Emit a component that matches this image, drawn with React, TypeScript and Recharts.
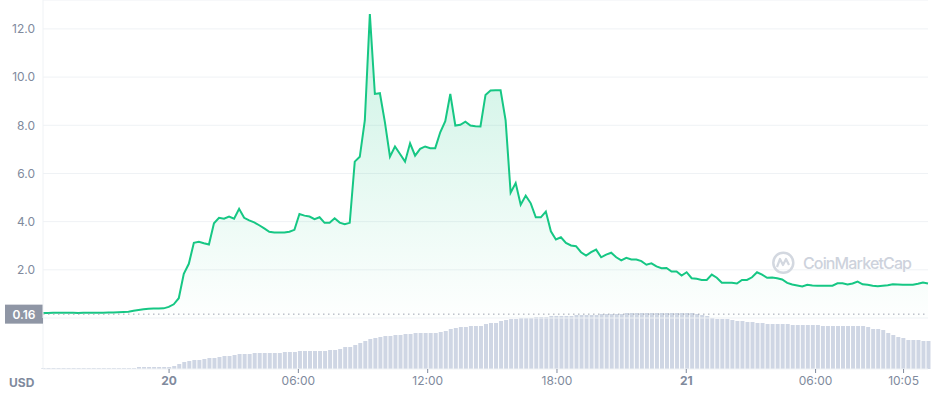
import { AreaChart, Area, BarChart, Bar, XAxis, YAxis, CartesianGrid, ReferenceLine } from "recharts"

// 19th 18:09 in minutes from 19th 00:00, one sample every 14 minutes
const START = 1089
const STEP = 14

const price = [
  0.21, 0.21, 0.22, 0.22, 0.22, 0.22, 0.22, 0.21, 0.22, 0.22, 0.22, 0.22, 0.22, 0.23, 0.23, 0.24, 0.25, 0.26, 0.30, 0.33,
  0.36, 0.38, 0.39, 0.39, 0.40, 0.46, 0.57, 0.82, 1.83, 2.25, 3.12, 3.16, 3.10, 3.05, 3.93, 4.16, 4.12, 4.21, 4.12, 4.53,
  4.16, 4.05, 3.97, 3.85, 3.72, 3.58, 3.55, 3.55, 3.55, 3.58, 3.66, 4.32, 4.25, 4.21, 4.10, 4.18, 3.95, 3.95, 4.14, 3.96,
  3.89, 3.95, 6.49, 6.69, 8.20, 12.62, 9.30, 9.33, 8.12, 6.70, 7.12, 6.81, 6.49, 7.25, 6.74, 7.02, 7.12, 7.05, 7.05, 7.71,
  8.17, 9.30, 7.99, 8.02, 8.15, 7.99, 7.96, 7.95, 9.26, 9.44, 9.45, 9.45, 8.20, 5.20, 5.60, 4.70, 5.08, 4.76, 4.18, 4.18,
  4.42, 3.60, 3.26, 3.35, 3.12, 3.01, 2.98, 2.73, 2.59, 2.73, 2.84, 2.52, 2.63, 2.71, 2.52, 2.39, 2.50, 2.43, 2.43, 2.36,
  2.21, 2.27, 2.14, 2.07, 2.08, 1.93, 1.93, 1.76, 1.90, 1.65, 1.63, 1.58, 1.58, 1.80, 1.67, 1.46, 1.46, 1.46, 1.43, 1.58,
  1.58, 1.69, 1.90, 1.80, 1.67, 1.68, 1.65, 1.60, 1.46, 1.39, 1.35, 1.31, 1.38, 1.35, 1.34, 1.34, 1.34, 1.34, 1.44, 1.44,
  1.39, 1.43, 1.51, 1.40, 1.38, 1.34, 1.32, 1.34, 1.36, 1.40, 1.39, 1.38, 1.38, 1.38, 1.42, 1.47, 1.43,
]

const volume = [
  1, 1, 1, 1, 1, 1, 1, 1, 1, 1, 1, 1, 1, 1, 1, 1, 1, 1, 1,
  2, 2, 2, 2, 2, 2, 2, 3, 5, 7, 8, 9, 9, 10, 11, 11, 12, 13, 13, 14, 15, 15, 15, 16, 16, 16, 16, 16, 16, 17, 17, 17,
  18, 18, 18, 18, 18, 18, 19, 19, 20, 22, 22, 24, 26, 28, 30, 31, 32, 33, 33, 34, 34, 35, 35, 36, 36, 36, 36,
  36, 37, 38, 40, 41, 42, 42, 43, 43, 43, 45, 46, 46, 48, 49, 50, 50, 51, 51, 51, 52, 52, 52, 53, 53, 53, 53, 53,
  54, 54, 54, 54, 54, 55, 55, 55, 55, 55, 56, 56, 56, 56, 56, 56, 56, 56, 56, 56, 56, 56, 56, 56, 55, 54, 53, 51,
  50, 50, 50,
  49, 48, 48, 47, 47, 46, 46, 45, 45, 45, 45, 45, 44, 44, 44, 44, 44, 44, 43, 43, 43, 43, 43, 43, 43, 43, 43,
  42, 40, 40, 39, 36, 34, 32, 31, 29, 29, 29, 28, 28,
]

const tickTimes = [1440, 1800, 2160, 2520, 2880, 3240, 3485]
const tickLabels = ["20", "06:00", "12:00", "18:00", "21", "06:00", "10:05"]
const dayLabels = ["20", "21"]
const priceTicks = [0, 2, 4, 6, 8, 10, 12]
const OPEN_PRICE = 0.16

const END = START + (price.length - 1) * STEP
const data = price.map((p, i) => ({ t: START + i * STEP, price: p, volume: volume[i] }))

const GREEN = "#16c784"
const GREY = "#808a9d"
const GRID = "#eff2f5"

const TimeTick = (props: any) => {
  const { x, y, payload } = props
  const label = tickLabels[tickTimes.indexOf(payload.value)]
  const bold = dayLabels.includes(label)
  return (
    <text x={x} y={y} dy={10} textAnchor="middle" fill={GREY} fontSize={12} fontWeight={bold ? 700 : 400}>
      {label}
    </text>
  )
}

const OpenTag = (props: any) => {
  const y = props.viewBox.y
  return (
    <g>
      <rect x={5} y={y - 9.5} width={38} height={19} fill="#8f96a5" />
      <text x={24} y={y + 4.5} textAnchor="middle" fill="#fff" fontSize={12} fontWeight={600}>
        {OPEN_PRICE.toFixed(2)}
      </text>
    </g>
  )
}

export default function App() {
  return (
    <div style={{ position: "absolute", left: 0, top: 0, width: 936, height: 396, background: "#fff", overflow: "hidden", fontFamily: "Inter, sans-serif" }}>
      <div style={{ position: "absolute", left: 0, top: 313 }}>
        <BarChart width={936} height={83} data={data} margin={{ top: 0, right: 8, bottom: 0, left: 0 }}>
          <XAxis
            dataKey="t"
            type="number"
            domain={[START, END]}
            ticks={tickTimes}
            height={27}
            tickSize={4}
            tickLine={{ stroke: GREY }}
            axisLine={{ stroke: GRID }}
            tick={<TimeTick />}
            interval={0}
          />
          <YAxis domain={[0, 56]} width={43} tick={false} tickLine={false} axisLine={{ stroke: GRID }} />
          <Bar dataKey="volume" fill="#cfd6e4" barSize={4} isAnimationActive={false} />
        </BarChart>
      </div>

      <div style={{ position: "absolute", left: 0, top: 0 }}>
        <AreaChart width={936} height={330} data={data} margin={{ top: 0, right: 8, bottom: 12, left: 0 }}>
          <defs>
            <linearGradient id="priceFill" x1="0" y1="0" x2="0" y2="1">
              <stop offset="0%" stopColor={GREEN} stopOpacity={0.38} />
              <stop offset="100%" stopColor={GREEN} stopOpacity={0.01} />
            </linearGradient>
          </defs>
          <CartesianGrid vertical={false} stroke={GRID} />
          <XAxis dataKey="t" type="number" domain={[START, END]} hide />
          <YAxis
            domain={[0, 13.2]}
            ticks={priceTicks}
            width={43}
            tickLine={false}
            axisLine={{ stroke: GRID }}
            tick={{ fill: GREY, fontSize: 12 }}
            tickFormatter={(v: number) => (v === 0 ? "" : v.toFixed(1))}
          />
          <ReferenceLine y={OPEN_PRICE} stroke="#9ea4b0" strokeDasharray="1.5 3.5" label={(p: any) => <OpenTag {...p} />} />
          <Area
            type="linear"
            dataKey="price"
            stroke={GREEN}
            strokeWidth={2}
            fill="url(#priceFill)"
            isAnimationActive={false}
            dot={false}
            activeDot={false}
          />
        </AreaChart>
      </div>

      <div style={{ position: "absolute", left: 9, top: 375, color: GREY, fontSize: 12, fontWeight: 700 }}>USD</div>

      <svg style={{ position: "absolute", left: 768, top: 248 }} width={150} height={30}>
        <circle cx={15.3} cy={14.7} r={10} fill="none" stroke="#d3d8e0" strokeWidth={2.5} />
        <path d="M9 19 L12 11 L15 17 L18 11 L21 17" fill="none" stroke="#d3d8e0" strokeWidth={2.2} strokeLinejoin="round" />
        <text x={35} y={21} fill="#cdd2dc" fontSize={16} fontWeight={500} textLength={109}>
          CoinMarketCap
        </text>
      </svg>
    </div>
  )
}
